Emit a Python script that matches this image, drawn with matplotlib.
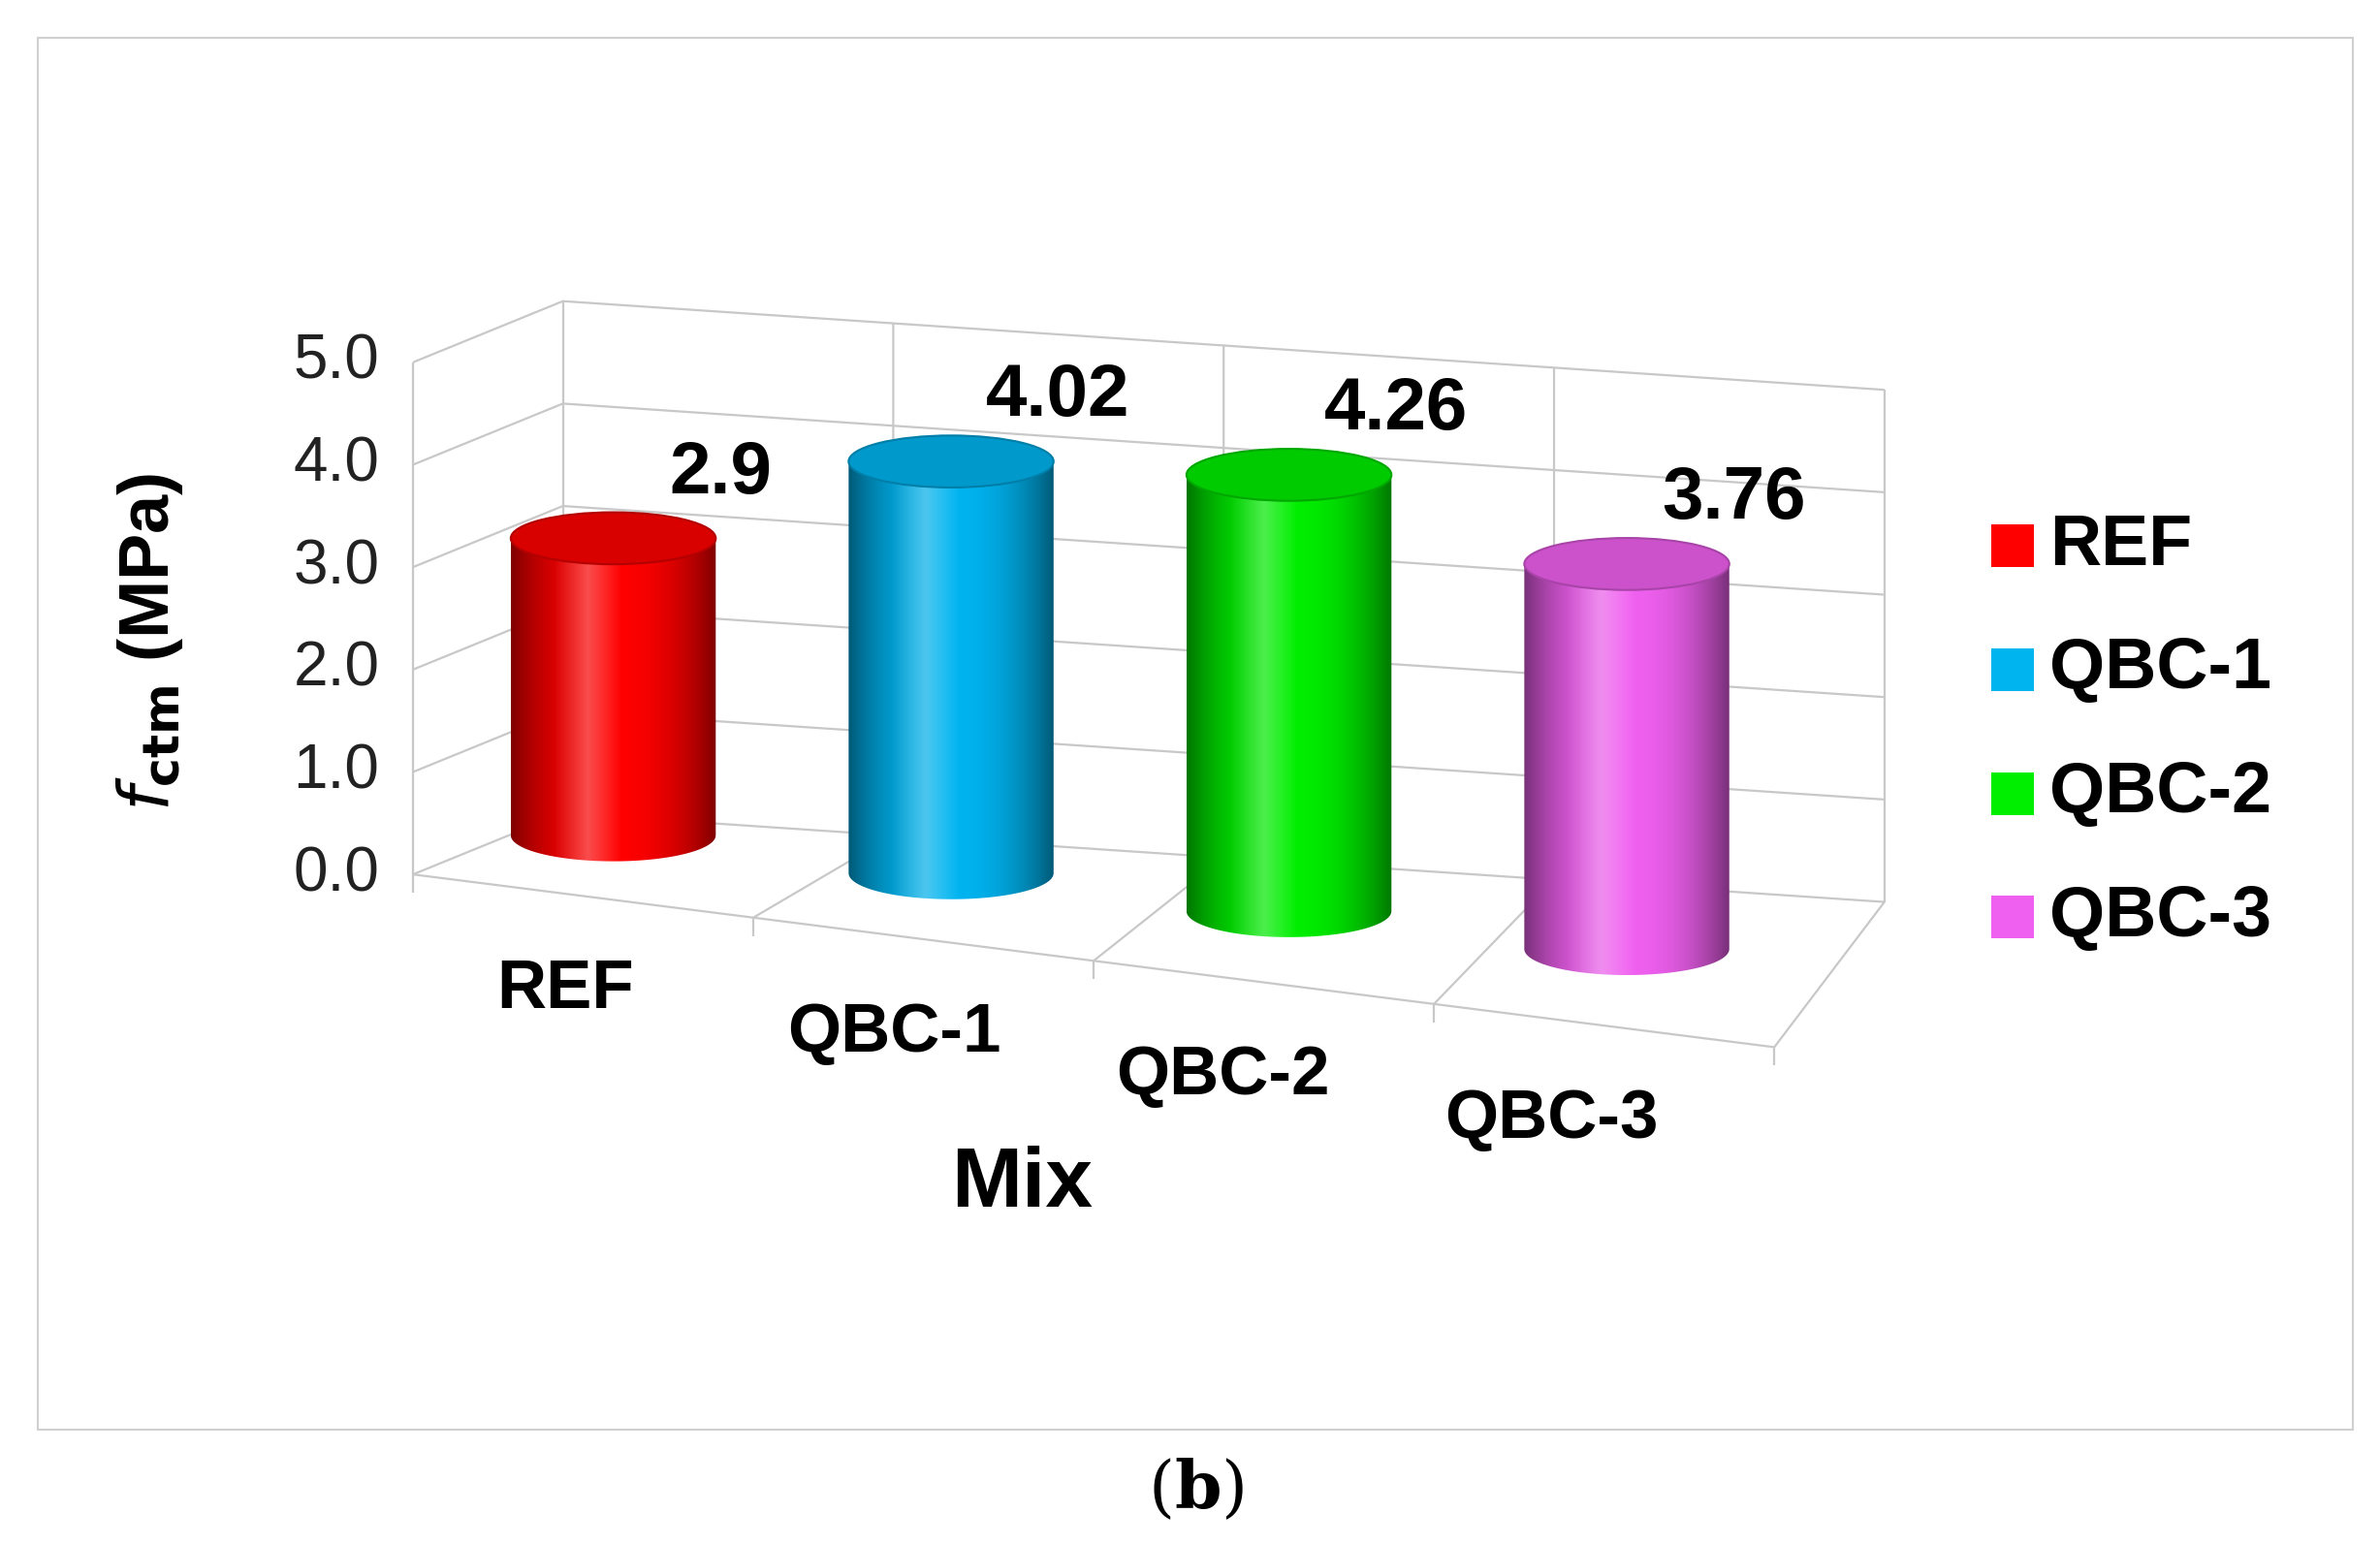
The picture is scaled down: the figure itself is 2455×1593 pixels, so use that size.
import numpy as np
import matplotlib
matplotlib.use("Agg")
import matplotlib.pyplot as plt
from matplotlib.patches import Rectangle, Ellipse, PathPatch
from matplotlib.path import Path
import matplotlib.colors as mc

categories = ["REF", "QBC-1", "QBC-2", "QBC-3"]
values = [2.9, 4.02, 4.26, 3.76]
value_labels = ["2.9", "4.02", "4.26", "3.76"]
colors = ["#ff0000", "#00b4f0", "#00ee00", "#f060f0"]
yticks = [0.0, 1.0, 2.0, 3.0, 4.0, 5.0]

plt.rcParams['font.family'] = ['Liberation Sans', 'DejaVu Sans']
fig = plt.figure(figsize=(24.55, 15.93), dpi=100)
ax = fig.add_axes([0, 0, 1, 1])
ax.set_xlim(0, 1556); ax.set_ylim(1010, 0); ax.axis('off')

S = 67.0
def P(u, w, v):
    fx, fy = 270 + 890*u, 572 + 113*u
    bx, by = 368 + 864*u, 532 + 58*u
    x = fx + (bx - fx)*w
    y = fy + (by - fy)*w - S*v
    return x, y

gc = "#c8c8c8"; lw = 1.6
def line(pts, c=gc):
    xs, ys = zip(*pts); ax.plot(xs, ys, color=c, lw=lw, solid_capstyle='butt')

ax.add_patch(Rectangle((25, 25), 1513, 910, fill=False, ec="#d0d0d0", lw=1.5))
vmax = yticks[-1]
for v in yticks:
    line([P(0, 0, v), P(0, 1, v), P(1, 1, v)])
line([P(0, 0, 0), P(0, 0, vmax)])
line([P(0, 1, 0), P(0, 1, vmax)])
line([P(1, 1, 0), P(1, 1, vmax)])
for k in range(1, 4):
    u = k/4
    line([P(u, 0, 0), P(u, 1, 0), P(u, 1, vmax)])
line([P(0, 0, 0), P(1, 0, 0), P(1, 1, 0)])
for k in range(5):
    x, y = P(k/4, 0, 0)
    line([(x, y), (x, y+12)])
for v in yticks:
    x, y = P(0, 0, v)
    ax.text(x-22, y, f"{v:.1f}", ha='right', va='center', fontsize=46, color='#222222')

R = 67; E = 17
for i, (val, col) in enumerate(zip(values, colors)):
    u = (i+0.5)/4
    cx, cy = P(u, 0.25, 0)
    cx -= 4; cy -= 28
    ty = cy - S*val
    th = np.linspace(np.pi, 0, 60)
    bottom = [(cx + R*np.cos(t), cy + E*np.sin(t)) for t in th]
    th2 = np.linspace(0, np.pi, 60)
    toparc = [(cx + R*np.cos(t), ty + E*np.sin(t)) for t in th2]
    body = bottom + [(cx+R, ty)] + toparc[1:]
    path = Path(body + [body[0]], [Path.MOVETO] + [Path.LINETO]*(len(body)-1) + [Path.CLOSEPOLY])
    base = np.array(mc.to_rgb(col))
    t = np.linspace(-1, 1, 200)
    shade = 1 - 0.5*np.abs(t)**2.2
    hi = np.clip(1 - np.abs(t + 0.25)*3, 0, 1)*0.3
    grad = np.clip(base[None, :]*shade[:, None] + hi[:, None]*(1-base[None, :]), 0, 1)
    img = np.tile(grad[None, :, :], (2, 1, 1))
    im = ax.imshow(img, extent=(cx-R, cx+R, cy+E, ty-E), aspect='auto', zorder=3, interpolation='bilinear')
    pp = PathPatch(path, transform=ax.transData, fc='none', ec='none')
    ax.add_patch(pp); im.set_clip_path(pp)
    ax.add_patch(Ellipse((cx, ty), 2*R, 2*E, fc=base*0.85, ec=base*0.7, lw=1.5, zorder=4))
    ax.text(cx+70, ty-42, value_labels[i], ha='center', va='center', fontsize=55, fontweight='bold', zorder=5)
    fx, fy = P(u, 0, 0)
    ax.text(fx-8-30*u, fy+62, categories[i], ha='center', va='center', fontsize=51, fontweight='bold')

ax.text(668, 775, "Mix", ha='center', va='center', fontsize=63, fontweight='bold')
ax.text(98, 420, r"$\bf\it{f}_{\rm\bf{ctm}}$ (MPa)", rotation=90, ha='center', va='center', fontsize=52, fontweight='bold')
for j, (c, col) in enumerate(zip(categories, colors)):
    y = 357 + 81*j
    ax.add_patch(Rectangle((1302, y-14), 28, 28, fc=col, ec='none'))
    ax.text(1340, y, c, ha='left', va='center', fontsize=53, fontweight='bold')
ax.text(782, 975, r"($\mathbf{b}$)", ha='center', va='center', fontsize=50,
        family='DejaVu Serif', math_fontfamily='dejavuserif')
fig.savefig("out.png", dpi=100)
